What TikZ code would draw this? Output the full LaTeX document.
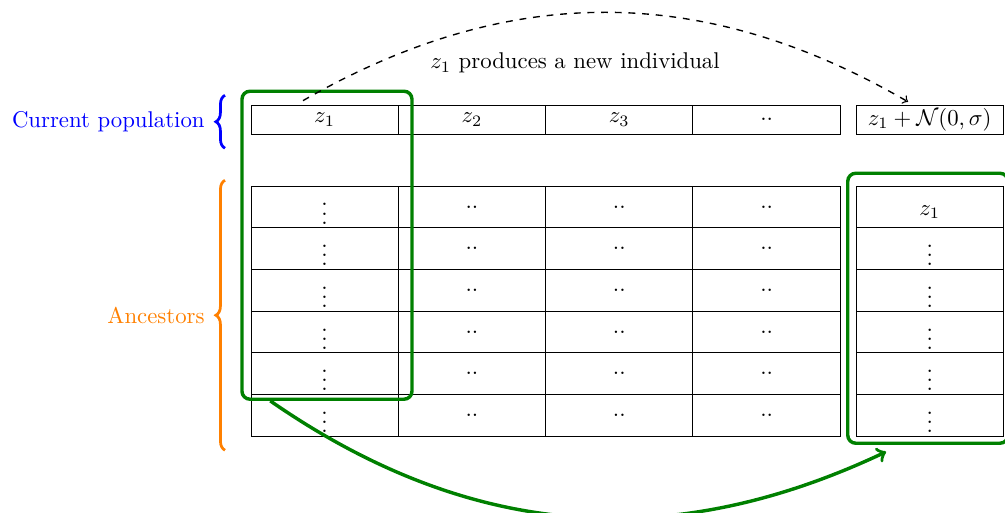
\documentclass[tikz,border=0pt]{standalone}
\usetikzlibrary{decorations.pathreplacing,positioning}

\definecolor{popblue}{RGB}{0,0,255}
\definecolor{ancorange}{RGB}{255,128,0}
\definecolor{selgreen}{RGB}{0,128,0}

\def\cellw{2.272cm}
\def\toph{0.447cm}
\def\anch{0.643cm}

\tikzset{
	cell/.style={draw,minimum width=\cellw,minimum height=\toph,inner sep=0pt,outer sep=0pt},
	anccell/.style={cell,minimum height=\anch},
	selbox/.style={draw=selgreen,line width=1.5pt,rounded corners=3.5pt,inner sep=0pt},
	bracket/.style={decorate,decoration={brace,amplitude=4pt},very thick},
}

\begin{document}
\begin{tikzpicture}
			\useasboundingbox (0,0) rectangle (15.5,7.9);

			% current population
			\node[cell] (p1) at (5.007,6.054) {$z_1$};
			\node[cell,right=0pt of p1] (p2) {$z_2$};
			\node[cell,right=0pt of p2] (p3) {$z_3$};
			\node[cell,right=0pt of p3] (p4) {..};
			\node[cell] (new) at (14.338,6.054) {$z_1 + \mathcal{N}(0,\sigma)$};

			% ancestors
			\foreach \r in {1,...,6} {
				\node[anccell] (anc-\r-1) at (5.007,{5.028-(\r-0.5)*0.6427}) {$\vdots$};
				\node[anccell,right=0pt of anc-\r-1] (anc-\r-2) {..};
				\node[anccell,right=0pt of anc-\r-2] (anc-\r-3) {..};
				\node[anccell,right=0pt of anc-\r-3] (anc-\r-4) {..};
			}

			% new ancestors
			\node[anccell,text height=9pt] (n-1) at (14.338,4.707) {$z_1$};
			\foreach \r [count=\q from 1] in {2,...,6} {
				\node[anccell,below=0pt of n-\q] (n-\r) {$\vdots$};
			}

			% selected individual
			\node[selbox,minimum width=2.622cm,minimum height=4.75cm] (sel) at (5.043,4.118) {};
			\node[selbox,minimum width=2.47cm,minimum height=4.164cm] (kept) at (14.31,3.146) {};

			% z1 produces a new individual
			\draw[semithick,dashed,->] ([xshift=-0.334cm,yshift=2pt]p1.north) to[bend left=30] ([xshift=-0.334cm,yshift=1.5pt]new.north);
			\node (lbl) at (8.868,6.925) {$z_1$ produces a new individual};

			% z1 goes to the ancestors
			\draw[selgreen,line width=1.5pt,->] (sel.250) to[bend right=30] ([yshift=-3pt]kept.253);

			% braces
			\draw[bracket,popblue] (3.47,5.614) -- (3.47,6.431) node[midway,left=5pt] (cur) {Current population};
			\draw[bracket,ancorange] (3.47,0.956) -- (3.47,5.120) node[midway,left=5pt] (ancl) {Ancestors};
		\end{tikzpicture}
\end{document}
